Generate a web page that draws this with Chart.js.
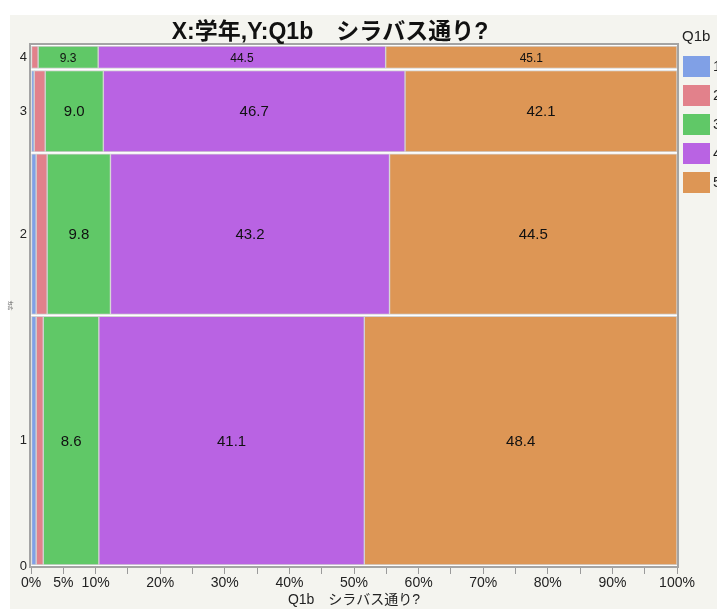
<!DOCTYPE html>
<html><head><meta charset="utf-8">
<script src="https://cdn.jsdelivr.net/npm/chart.js@4.4.1/dist/chart.umd.min.js"></script>
<style>html,body{margin:0;padding:0;background:#fff;} #wrap{position:relative;width:717px;height:609px;} canvas{display:block}</style>
</head><body><div id="wrap"><canvas id="c" width="717" height="609"></canvas></div>
<script>
// ---- data ----
const chartTitle = 'X:学年,Y:Q1b\u3000シラバス通り?';
const xTitle = 'Q1b\u3000シラバス通り?';
const yTitle = '学年';
const legendTitle = 'Q1b';
const grades = ['1', '2', '3', '4'];
const levels = ['1', '2', '3', '4', '5'];
const levelColors = ['#80a0e6', '#e2818b', '#60c867', '#b963e3', '#dd9655'];
const gradeShares = [48.1, 31.2, 16.0, 4.7];          // share of respondents per grade (row heights)
const level1 = [0.8, 0.8, 0.5, 0.0];
const level2 = [1.1, 1.7, 1.7, 1.1];
const level3 = [8.6, 9.8, 9.0, 9.3];
const level4 = [41.1, 43.2, 46.7, 44.5];
const level5 = [48.4, 44.5, 42.1, 45.1];
const labeledLevels = [false, false, true, true, true];
const xTickValues = [0, 5, 10, 15, 20, 25, 30, 35, 40, 45, 50, 55, 60, 65, 70, 75, 80, 85, 90, 95, 100];
const xTickLabels = ['0%', '5%', '10%', '', '20%', '', '30%', '', '40%', '', '50%', '', '60%', '', '70%', '', '80%', '', '90%', '', '100%'];
const yTickLabels = ['0', '1', '2', '3', '4'];

// ---- derived ----
const levelValues = [level1, level2, level3, level4, level5];
const rowStart = [], rowEnd = [], rowCenter = [];
let acc = 0;
gradeShares.forEach((s, i) => { rowStart.push(acc); rowEnd.push(acc + s); rowCenter.push(acc + s / 2); acc += s; });
const yTotal = acc;
const yTickValues = [0].concat(rowCenter);

function rowThickness(chart, g) {
  const s = chart.scales && chart.scales.y;
  if (!s) return 10;
  return Math.max(1, Math.abs(s.getPixelForValue(rowStart[g]) - s.getPixelForValue(rowEnd[g])) - 2);
}

const datasets = [];
grades.forEach((gr, g) => {
  levels.forEach((lv, l) => {
    datasets.push({
      label: lv,
      data: [{ x: levelValues[l][g], y: rowCenter[g] }],
      backgroundColor: levelColors[l],
      borderColor: '#d2d2d2',
      borderWidth: 1,
      borderSkipped: false,
      stack: 'mosaic',
      grouped: false,
      barThickness: (ctx) => rowThickness(ctx.chart, g),
      _row: g, _level: l
    });
  });
});

const FONT = '"Liberation Sans", Arial, "Noto Sans CJK JP", sans-serif';

const decor = {
  id: 'decor',
  beforeDraw(chart) {
    const { ctx, chartArea: a } = chart;
    ctx.save();
    ctx.fillStyle = '#ffffff';
    ctx.fillRect(0, 0, chart.width, chart.height);
    ctx.fillStyle = '#f4f4ef';
    ctx.fillRect(10, 15, chart.width - 10, chart.height - 15);
    ctx.fillStyle = '#ffffff';
    ctx.fillRect(a.left, a.top, a.right - a.left, a.bottom - a.top);
    ctx.restore();
  },
  afterDatasetsDraw(chart) {
    const { ctx, chartArea: a } = chart;
    ctx.save();
    chart.data.datasets.forEach((ds, i) => {
      if (!labeledLevels[ds._level]) return;
      const el = chart.getDatasetMeta(i).data[0];
      if (!el) return;
      const cx = (el.x + el.base) / 2;
      const th = rowThickness(chart, ds._row);
      const fs = Math.min(15, Math.round(th * 0.55));
      ctx.font = fs + 'px ' + FONT;
      ctx.fillStyle = '#111';
      ctx.textAlign = 'center';
      ctx.textBaseline = 'middle';
      ctx.fillText(ds.data[0].x.toFixed(1), cx, el.y + 1);
    });
    ctx.strokeStyle = '#a4a4a4';
    ctx.lineWidth = 2;
    ctx.strokeRect(a.left - 1, a.top - 1, a.right - a.left + 2, a.bottom - a.top + 2);
    ctx.restore();
  },
  afterDraw(chart) {
    const { ctx } = chart;
    ctx.save();
    ctx.fillStyle = '#111';
    ctx.font = 'bold 23px ' + FONT;
    ctx.textAlign = 'center';
    ctx.textBaseline = 'middle';
    ctx.fillText(chartTitle, 330, 33);
    ctx.font = '15px ' + FONT;
    ctx.textAlign = 'left';
    ctx.fillStyle = '#222';
    ctx.fillText(legendTitle, 682, 37);
    levels.forEach((lv, l) => {
      const y = 56 + l * 29;
      ctx.fillStyle = levelColors[l];
      ctx.fillRect(683, y, 27, 21);
      ctx.fillStyle = '#222';
      ctx.fillText(lv, 713, y + 11);
    });
    ctx.restore();
  }
};

new Chart(document.getElementById('c'), {
  type: 'bar',
  data: { datasets },
  plugins: [decor],
  options: {
    indexAxis: 'y',
    responsive: false,
    animation: false,
    layout: { padding: { left: 0, top: 45, right: 40, bottom: 0 } },
    plugins: { legend: { display: false }, tooltip: { enabled: false }, title: { display: false } },
    scales: {
      x: {
        type: 'linear', stacked: true, min: 0, max: 100, offset: false,
        border: { display: false },
        grid: { display: true, offset: false, drawOnChartArea: false, drawTicks: true, tickLength: 8, color: '#9a9a9a' },
        afterBuildTicks: (s) => { s.ticks = xTickValues.map(v => ({ value: v })); },
        afterFit: (s) => { s.height = 43; },
        ticks: {
          autoSkip: false, maxRotation: 0, padding: 1, color: '#222',
          font: { family: FONT, size: 14 },
          callback: (v) => { const i = xTickValues.indexOf(v); return i >= 0 ? xTickLabels[i] : ''; }
        },
        title: { display: true, text: xTitle, color: '#222', padding: { top: 0, bottom: 0 }, font: { family: FONT, size: 14 } }
      },
      y: {
        type: 'linear', min: 0, max: yTotal, offset: false,
        border: { display: false },
        grid: { display: false, offset: false, drawTicks: false, tickLength: 0 },
        afterBuildTicks: (s) => { s.ticks = yTickValues.map(v => ({ value: v })); },
        afterFit: (s) => { s.width = 31; },
        ticks: {
          autoSkip: false, padding: 4, color: '#222',
          font: { family: FONT, size: 13 },
          callback: (v) => { const i = yTickValues.indexOf(v); return i >= 0 ? yTickLabels[i] : ''; }
        },
        title: { display: true, text: yTitle, color: '#666', padding: { top: 8, bottom: 0 }, font: { family: FONT, size: 5 } }
      }
    }
  }
});
</script>
</body></html>
